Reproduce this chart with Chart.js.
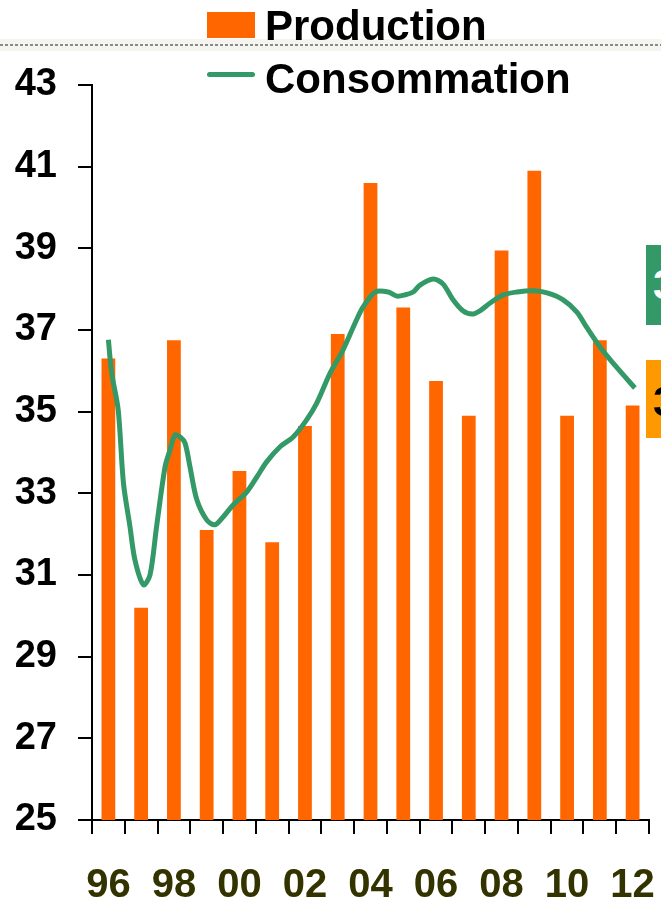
<!DOCTYPE html>
<html>
<head>
<meta charset="utf-8">
<script src="https://cdn.jsdelivr.net/npm/chart.js@4.4.0/dist/chart.umd.min.js"></script>
<style>
  html, body { margin: 0; padding: 0; background: #fff; overflow: hidden; }
  #wrap { position: relative; width: 661px; height: 907px; overflow: hidden; }
  #chart { position: absolute; left: 0; top: 0; }
  .band { position: absolute; left: 0; top: 39px; width: 661px; height: 12px; background: #f5f5ef; }
  .dots { position: absolute; left: 0; top: 44px; width: 661px; height: 2px;
    background: repeating-linear-gradient(90deg, #8a8a8a 0 3px, transparent 3px 5px); }
  .leg-text { position: absolute; left: 265px; font: bold 42px "Liberation Sans", Arial, sans-serif;
    line-height: 42px; color: #000; white-space: nowrap; }
  .leg-box { position: absolute; left: 207px; top: 12px; width: 48px; height: 26px; background: #ff6600; }
  .leg-line { position: absolute; left: 207px; top: 72px; width: 48px; height: 5px; border-radius: 3px; background: #339966; }
  .tag { position: absolute; left: 646px; width: 40px; overflow: hidden;
    font: bold 42px "Liberation Sans", Arial, sans-serif; line-height: 42px; padding-left: 7px; box-sizing: border-box; }
</style>
</head>
<body>
<div id="wrap">
  <canvas id="chart" width="661" height="907"></canvas>
  <div class="band"></div>
  <div class="dots"></div>
  <div class="leg-box"></div>
  <div class="leg-text" style="top:5px">Production</div>
  <div class="leg-line"></div>
  <div class="leg-text" style="top:58px">Consommation</div>
  <div class="tag" style="top:245px;height:80px;background:#339966;color:#fff;padding-top:19px">3</div>
  <div class="tag" style="top:360px;height:78px;background:#ff9900;color:#000;padding-top:21px">3</div>
</div>
<script>
// années (axe des catégories)
const years = ['96', '97', '98', '99', '00', '01', '02', '03', '04', '05', '06', '07', '08', '09', '10', '11', '12'];

// production annuelle (barres)
const production = [36.3, 30.2, 36.75, 32.1, 33.55, 31.8, 34.65, 36.9, 40.6, 37.55, 35.75, 34.9, 38.95, 40.9, 34.9, 36.75, 35.15];

// consommation (courbe lissée) : position en années depuis 96, valeur
const consoPos = [0, 0.10, 0.30, 0.46, 0.66, 0.81, 1.07, 1.27, 1.47, 1.73, 1.88, 2.03, 2.19, 2.34, 2.49, 2.70,
  3.00, 3.25, 3.50, 3.80, 4.22, 4.53, 4.83, 5.24, 5.64, 6.05, 6.36, 6.77, 7.16, 7.53, 7.77, 8.14,
  8.54, 8.81, 9.05, 9.30, 9.51, 9.91, 10.21, 10.52, 10.82, 11.10, 11.34, 11.65, 12.05, 12.47, 12.96,
  13.39, 13.88, 14.30, 14.61, 15.01, 15.53, 16.07];
const consoVal = [36.76, 35.95, 35.04, 33.25, 32.18, 31.37, 30.76, 31.0, 32.18, 33.65, 34.06, 34.43, 34.38, 34.23, 33.65, 32.84,
  32.35, 32.23, 32.42, 32.71, 33.03, 33.40, 33.77, 34.14, 34.38, 34.80, 35.21, 35.95, 36.51, 37.17, 37.56, 37.93,
  37.93, 37.83, 37.86, 37.93, 38.10, 38.25, 38.13, 37.74, 37.47, 37.39, 37.47, 37.66, 37.86, 37.93, 37.96,
  37.91, 37.74, 37.44, 37.05, 36.58, 36.07, 35.58];

// graduations de l'axe vertical
const yMin = 25;
const yMax = 43;
const yStep = 2;

const FONT = '"Liberation Sans", Arial, sans-serif';

new Chart(document.getElementById('chart'), {
  type: 'bar',
  data: {
    labels: years,
    datasets: [
      {
        type: 'line',
        label: 'Consommation',
        data: consoPos.map((p, i) => ({ x: p, y: consoVal[i] })),
        xAxisID: 'x2',
        borderColor: '#339966',
        borderWidth: 5,
        pointRadius: 0,
        tension: 0.3,
        fill: false,
        order: 1,
      },
      {
        type: 'bar',
        label: 'Production',
        data: production,
        xAxisID: 'x',
        backgroundColor: '#ff6600',
        barPercentage: 0.42,
        categoryPercentage: 1,
        grouped: false,
        order: 2,
      },
    ],
  },
  options: {
    responsive: false,
    animation: false,
    layout: { padding: { top: 85, right: 12, left: 0, bottom: 0 } },
    plugins: {
      legend: { display: false },
      tooltip: { enabled: false },
    },
    scales: {
      x: {
        type: 'category',
        offset: true,
        afterFit: s => { s.height = 87; s.paddingLeft = 0; s.paddingRight = 0; },
        grid: { offset: true, drawOnChartArea: false, drawTicks: true, tickLength: 14, color: '#000', lineWidth: 2 },
        border: { color: '#000', width: 2 },
        ticks: {
          autoSkip: false,
          maxRotation: 0,
          padding: 28,
          color: '#333300',
          font: { family: FONT, size: 40, weight: 'bold' },
          callback: (v, i) => (i % 2 === 0 ? years[i] : ''),
        },
      },
      x2: {
        type: 'linear',
        display: false,
        offset: false,
        min: -0.5,
        max: 16.5,
      },
      y: {
        min: yMin,
        max: yMax,
        afterFit: s => { s.width = 92; },
        grid: { drawOnChartArea: false, drawTicks: true, tickLength: 14, color: '#000', lineWidth: 2 },
        border: { color: '#000', width: 2 },
        ticks: {
          stepSize: yStep,
          padding: 21,
          color: '#000',
          font: { family: FONT, size: 38, weight: 'bold' },
        },
      },
    },
  },
});
</script>
</body>
</html>
